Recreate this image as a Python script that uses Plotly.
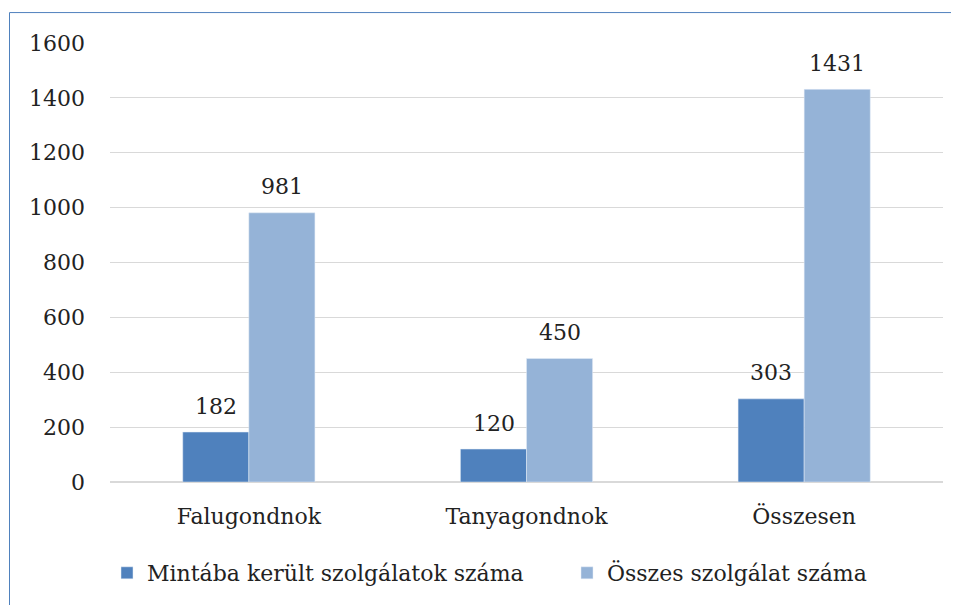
import plotly.graph_objects as go

categories = ["Falugondnok", "Tanyagondnok", "Összesen"]
minta = [182, 120, 303]
osszes = [981, 450, 1431]
series_names = ["Mintába került szolgálatok száma", "Összes szolgálat száma"]
y_ticks = [0, 200, 400, 600, 800, 1000, 1200, 1400, 1600]

FONT = "DejaVu Serif"
FS = 22
OFF = 8  # page body margin
W, H = 959 - OFF, 605 - OFF
L, R, T, B = 110 - OFF, 16, 43 - OFF, 122
pw, ph = W - L - R, H - T - B
BAR_PX = 66

fig = go.Figure()
fig.add_bar(x=categories, y=minta, name=series_names[0], marker_color="#4F81BD", legend="legend")
fig.add_bar(x=categories, y=osszes, name=series_names[1], marker_color="#95B3D7", legend="legend2")

annotations = []
for vals, sh in ((minta, -BAR_PX / 2), (osszes, BAR_PX / 2)):
    for c, v in zip(categories, vals):
        annotations.append(dict(x=c, y=v, xref="x", yref="y", text=str(v), showarrow=False,
                                xshift=sh, yshift=26, yanchor="middle",
                                font=dict(family=FONT, size=FS, color="#222222")))

def px_x(x):
    return (x - OFF - L) / pw

def px_y(y):
    return (H - B - (y - OFF)) / ph

leg_common = dict(orientation="h", xanchor="left", y=px_y(573), yanchor="middle",
                  font=dict(family=FONT, size=FS, color="#222222"), itemwidth=30,
                  bgcolor="rgba(0,0,0,0)")
border = dict(color="#4F81BD", width=1)
fig.update_layout(
    width=W, height=H,
    margin=dict(l=L, r=R, t=T, b=B),
    paper_bgcolor="white", plot_bgcolor="white",
    barmode="group", bargap=0.524, bargroupgap=0,
    font=dict(family=FONT, size=FS, color="#222222"),
    showlegend=True,
    legend=dict(x=px_x(107), **leg_common),
    legend2=dict(x=px_x(567), **leg_common),
    xaxis=dict(showgrid=False, showline=True, linecolor="#d9d9d9", linewidth=1,
               ticks="", ticklabelstandoff=15,
               tickfont=dict(family=FONT, size=FS, color="#222222")),
    yaxis=dict(range=[0, 1600], tickvals=y_ticks, showgrid=True, gridcolor="#d9d9d9",
               gridwidth=1, zeroline=True, zerolinecolor="#d9d9d9", showline=False,
               ticks="", ticklabelstandoff=24,
               tickfont=dict(family=FONT, size=FS, color="#222222")),
    annotations=annotations,
    shapes=[
        dict(type="line", xref="paper", yref="paper",
             x0=px_x(9.5), x1=px_x(980), y0=px_y(12.5), y1=px_y(12.5), line=border),
        dict(type="line", xref="paper", yref="paper",
             x0=px_x(9.5), x1=px_x(9.5), y0=px_y(12.5), y1=px_y(640), line=border),
    ],
)

fig.write_html("out.html")
